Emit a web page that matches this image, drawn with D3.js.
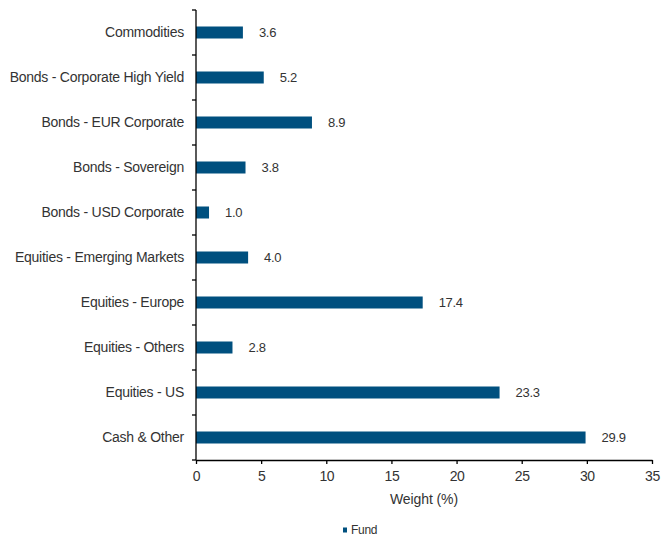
<!DOCTYPE html>
<html>
<head>
<meta charset="utf-8">
<script src="https://cdn.jsdelivr.net/npm/d3@7"></script>
<style>
  body { margin: 0; background: #fff; }
  svg text { font-family: "Liberation Sans", Arial, sans-serif; fill: #333; }
</style>
</head>
<body>
<div id="chart"></div>
<script>
// data
var categories = ["Commodities", "Bonds - Corporate High Yield", "Bonds - EUR Corporate",
  "Bonds - Sovereign", "Bonds - USD Corporate", "Equities - Emerging Markets",
  "Equities - Europe", "Equities - Others", "Equities - US", "Cash & Other"];
var fund = [3.6, 5.2, 8.9, 3.8, 1.0, 4.0, 17.4, 2.8, 23.3, 29.9];
var xTicks = [0, 5, 10, 15, 20, 25, 30, 35];

var W = 661, H = 538;
var margin = {top: 10, right: 9, bottom: 78, left: 196},
    width = W - margin.left - margin.right,
    height = H - margin.top - margin.bottom;

var x = d3.scaleLinear().domain([0, 35]).range([0, width]);
var y = d3.scaleBand().domain(categories).range([0, height]);

var svg = d3.select("#chart").append("svg")
    .attr("width", W)
    .attr("height", H);
var g = svg.append("g")
    .attr("transform", "translate(" + margin.left + "," + margin.top + ")");

// bars
g.selectAll(".bar")
  .data(fund)
  .enter().append("rect")
    .attr("class", "bar")
    .attr("x", x(0))
    .attr("y", function(d, i) { return y(categories[i]) + y.bandwidth() / 2 - 6; })
    .attr("width", function(d) { return x(d) - x(0); })
    .attr("height", 12)
    .attr("fill", "#00507f");

// value labels
g.selectAll(".val")
  .data(fund)
  .enter().append("text")
    .attr("class", "val")
    .attr("x", function(d) { return x(d) + 16; })
    .attr("y", function(d, i) { return y(categories[i]) + y.bandwidth() / 2; })
    .attr("dy", "0.35em")
    .style("font-size", "13px")
    .style("letter-spacing", "-0.3px")
    .text(function(d) { return d.toFixed(1); });

// y axis: line + ticks between categories
g.append("line")
  .attr("x1", 0).attr("x2", 0)
  .attr("y1", 0).attr("y2", height)
  .attr("stroke", "#000").attr("stroke-width", 1.3);
g.selectAll(".ytick")
  .data(d3.range(categories.length + 1))
  .enter().append("line")
    .attr("x1", -4).attr("x2", 0)
    .attr("y1", function(i) { return i * y.step(); })
    .attr("y2", function(i) { return i * y.step(); })
    .attr("stroke", "#000").attr("stroke-width", 1.3);
g.selectAll(".ylab")
  .data(categories)
  .enter().append("text")
    .attr("class", "ylab")
    .attr("x", -12)
    .attr("y", function(d) { return y(d) + y.bandwidth() / 2; })
    .attr("dy", "0.35em")
    .attr("text-anchor", "end")
    .style("font-size", "14px")
    .style("letter-spacing", "-0.25px")
    .text(function(d) { return d; });

// x axis
var xAxis = d3.axisBottom(x).tickValues(xTicks).tickSize(4).tickSizeOuter(0).tickPadding(7);
var xg = g.append("g")
    .attr("transform", "translate(0," + height + ")")
    .call(xAxis);
xg.select(".domain").attr("stroke", "#000").attr("stroke-width", 1.3);
xg.selectAll(".tick line").attr("stroke", "#000").attr("stroke-width", 1.3);
xg.selectAll(".tick text")
    .style("font-size", "14px")
    .style("letter-spacing", "-0.4px")
    .style("font-family", "Liberation Sans, Arial, sans-serif")
    .attr("fill", "#333");

g.append("text")
  .attr("x", width / 2)
  .attr("y", height + 39)
  .attr("dy", "0.35em")
  .attr("text-anchor", "middle")
  .style("font-size", "14px")
  .style("letter-spacing", "-0.1px")
  .text("Weight (%)");

// legend
var legend = svg.append("g").attr("transform", "translate(343,530)");
legend.append("rect")
  .attr("x", 0).attr("y", -2.5).attr("width", 4).attr("height", 5)
  .attr("fill", "#00507f");
legend.append("text")
  .attr("x", 8).attr("y", 0).attr("dy", "0.35em")
  .style("font-size", "12px")
  .style("letter-spacing", "-0.3px")
  .text("Fund");
</script>
</body>
</html>
